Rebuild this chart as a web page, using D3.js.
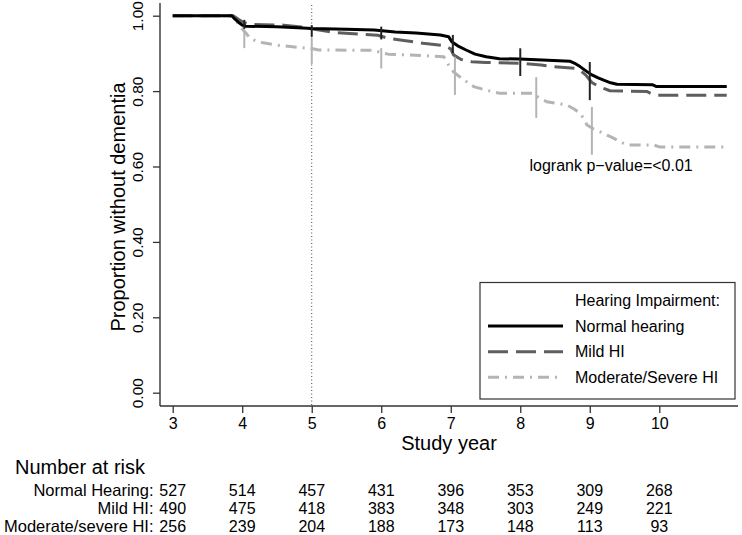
<!DOCTYPE html>
<html>
<head>
<meta charset="utf-8">
<script src="https://cdn.jsdelivr.net/npm/d3@7"></script>
<style>
  html, body { margin: 0; padding: 0; background: #fff; }
  svg { display: block; font-family: "Liberation Sans", Arial, Helvetica, sans-serif; }
</style>
</head>
<body>
<svg id="chart" width="742" height="535"></svg>
<script>
// ---------- data ----------
const years = [3, 4, 5, 6, 7, 8, 9, 10];
const yTicks = [0, 0.2, 0.4, 0.6, 0.8, 1.0];
const groupNames = ["Normal hearing", "Mild HI", "Moderate/Severe HI"];
const riskLabels = ["Normal Hearing:", "Mild HI:", "Moderate/severe HI:"];

const riskNormal = [527, 514, 457, 431, 396, 353, 309, 268];
const riskMild = [490, 475, 418, 383, 348, 303, 249, 221];
const riskModerate = [256, 239, 204, 188, 173, 148, 113, 93];

// Kaplan-Meier estimates [year, survival]
const kmNormal = [[3,1],[3.85,1],[3.9,0.99],[3.95,0.982],[4.0,0.975],[4.05,0.972],[4.5,0.971],[4.8,0.968],[5.0,0.966],[5.5,0.964],[5.9,0.962],[6.2,0.957],[6.5,0.954],[6.85,0.949],[6.97,0.944],[7.02,0.93],[7.1,0.92],[7.22,0.909],[7.35,0.898],[7.51,0.891],[7.7,0.886],[7.99,0.885],[8.4,0.882],[8.72,0.879],[8.8,0.872],[8.86,0.865],[8.95,0.853],[9.03,0.843],[9.12,0.835],[9.2,0.829],[9.3,0.822],[9.39,0.818],[9.9,0.817],[9.96,0.812],[10.97,0.812]];
const kmMild = [[3,1],[3.87,1],[3.95,0.99],[4.02,0.982],[4.1,0.977],[4.6,0.975],[4.85,0.97],[5.0,0.965],[5.3,0.956],[5.7,0.951],[5.95,0.948],[6.1,0.94],[6.3,0.935],[6.6,0.927],[6.9,0.921],[7.0,0.912],[7.04,0.896],[7.15,0.884],[7.3,0.878],[7.5,0.876],[8.0,0.874],[8.3,0.869],[8.47,0.865],[8.8,0.86],[8.88,0.852],[8.94,0.843],[9.03,0.823],[9.12,0.813],[9.2,0.807],[9.29,0.801],[9.82,0.799],[9.9,0.792],[9.97,0.789],[10.97,0.789]];
const kmModerate = [[3,1],[3.85,1],[3.9,0.99],[3.97,0.971],[4.05,0.955],[4.11,0.94],[4.2,0.933],[4.3,0.928],[4.5,0.922],[4.8,0.916],[5.0,0.913],[5.1,0.909],[5.9,0.908],[6.0,0.902],[6.1,0.898],[6.41,0.896],[6.9,0.891],[6.97,0.869],[7.04,0.851],[7.1,0.842],[7.16,0.834],[7.25,0.822],[7.33,0.812],[7.5,0.803],[7.71,0.794],[8.18,0.794],[8.25,0.785],[8.38,0.772],[8.67,0.763],[8.78,0.752],[8.86,0.741],[8.92,0.725],[8.96,0.71],[9.05,0.7],[9.15,0.692],[9.25,0.683],[9.34,0.675],[9.48,0.662],[9.55,0.657],[9.92,0.657],[10.0,0.652],[10.97,0.652]];

// censoring marks [year, upper survival, lower survival]
const censorNormal = [[4.03,0.989,0.965],[5.0,0.975,0.944],[6.0,0.971,0.937],[7.03,0.949,0.901],[8.0,0.9135,0.84],[9.0,0.877,0.776]];
const censorModerate = [[4.03,0.962,0.914],[5.0,0.941,0.872],[6.0,0.914,0.86],[7.06,0.891,0.79],[8.23,0.837,0.729],[9.03,0.758,0.631]];

const refYear = 5;
const pValueText = "logrank p\u2212value=<0.01";

// ---------- layout ----------
const svg = d3.select("#chart");
const FONT_TICK = 15.5;
const FONT_TEXT = 16;
const axisX0 = 160, axisX1 = 738, axisYTop = 3, axisYBottom = 406;

const x = d3.scaleLinear().domain([3, 10]).range([172.7, 659.3]);
const y = d3.scaleLinear().domain([0, 1]).range([392.7, 15.7]);

const styles = [
  { color: "#000000", width: 3, dash: null },
  { color: "#5e5e5e", width: 3, dash: "20,8" },
  { color: "#b4b4b4", width: 3, dash: "11,6,2,6" }
];

// axis lines
svg.append("line").attr("x1", axisX0).attr("x2", axisX0).attr("y1", axisYTop).attr("y2", axisYBottom)
  .attr("stroke", "#333").attr("stroke-width", 1.4);
svg.append("line").attr("x1", axisX0).attr("x2", axisX1).attr("y1", axisYBottom).attr("y2", axisYBottom)
  .attr("stroke", "#333").attr("stroke-width", 1.4);

// y axis
const yAxisG = svg.append("g").attr("transform", `translate(${axisX0},0)`)
  .call(d3.axisLeft(y).tickValues(yTicks).tickFormat(d3.format(".2f")).tickSize(7).tickSizeOuter(0));
yAxisG.select(".domain").remove();
yAxisG.selectAll(".tick line").attr("stroke", "#333").attr("stroke-width", 1.3);
yAxisG.selectAll(".tick text")
  .attr("x", null).attr("dy", null)
  .attr("transform", "translate(-16.7,0) rotate(-90)")
  .attr("text-anchor", "middle")
  .attr("font-size", FONT_TICK).attr("fill", "#000")
  .attr("font-family", "Liberation Sans, Arial, sans-serif");

// x axis
const xAxisG = svg.append("g").attr("transform", `translate(0,${axisYBottom})`)
  .call(d3.axisBottom(x).tickValues(years).tickFormat(d3.format("d")).tickSize(7).tickSizeOuter(0));
xAxisG.select(".domain").remove();
xAxisG.selectAll(".tick line").attr("stroke", "#333").attr("stroke-width", 1.3);
xAxisG.selectAll(".tick text")
  .attr("y", 23).attr("dy", null)
  .attr("font-size", FONT_TEXT).attr("fill", "#000")
  .attr("font-family", "Liberation Sans, Arial, sans-serif");

// axis titles
svg.append("text")
  .attr("transform", `translate(125,207) rotate(-90)`)
  .attr("text-anchor", "middle").attr("font-size", 20).text("Proportion without dementia");
svg.append("text")
  .attr("x", (axisX0 + axisX1) / 2).attr("y", 450)
  .attr("text-anchor", "middle").attr("font-size", 20).text("Study year");

// reference line at year 5
svg.append("line")
  .attr("x1", x(refYear)).attr("x2", x(refYear)).attr("y1", axisYTop + 2).attr("y2", axisYBottom)
  .attr("stroke", "#444").attr("stroke-width", 1).attr("stroke-dasharray", "1,2.5");

// curves
const line = d3.line().x(d => x(d[0])).y(d => y(d[1])).curve(d3.curveLinear);
const curves = [kmNormal, kmMild, kmModerate];
[2, 1, 0].forEach(i => {
  const p = svg.append("path").datum(curves[i])
    .attr("d", line).attr("fill", "none")
    .attr("stroke", styles[i].color).attr("stroke-width", styles[i].width)
    .attr("stroke-linejoin", "round");
  if (styles[i].dash) p.attr("stroke-dasharray", styles[i].dash);
});

// censor marks
svg.append("g").selectAll("line").data(censorModerate).join("line")
  .attr("x1", d => x(d[0])).attr("x2", d => x(d[0]))
  .attr("y1", d => y(d[1])).attr("y2", d => y(d[2]))
  .attr("stroke", "#b4b4b4").attr("stroke-width", 2);
svg.append("g").selectAll("line").data(censorNormal).join("line")
  .attr("x1", d => x(d[0])).attr("x2", d => x(d[0]))
  .attr("y1", d => y(d[1])).attr("y2", d => y(d[2]))
  .attr("stroke", "#222").attr("stroke-width", 2);

// p-value
svg.append("text").attr("x", 529.5).attr("y", 171).attr("font-size", FONT_TEXT).text(pValueText);

// legend
const lg = svg.append("g");
lg.append("rect").attr("x", 480).attr("y", 282.5).attr("width", 255).attr("height", 116.5)
  .attr("fill", "#fff").attr("stroke", "#333").attr("stroke-width", 1.2);
lg.append("text").attr("x", 575).attr("y", 306).attr("font-size", FONT_TEXT).text("Hearing Impairment:");
const legendYs = [326, 351.7, 377.3];
groupNames.forEach((name, i) => {
  const l = lg.append("line").attr("x1", 488).attr("x2", 563)
    .attr("y1", legendYs[i]).attr("y2", legendYs[i])
    .attr("stroke", styles[i].color).attr("stroke-width", styles[i].width);
  if (styles[i].dash) l.attr("stroke-dasharray", styles[i].dash);
  lg.append("text").attr("x", 575).attr("y", legendYs[i] + 5.7).attr("font-size", FONT_TEXT).text(name);
});

// number at risk table
svg.append("text").attr("x", 15).attr("y", 474).attr("font-size", 20).text("Number at risk");
const riskRows = [riskNormal, riskMild, riskModerate];
const rowYs = [495.7, 513.6, 532];
riskRows.forEach((row, i) => {
  svg.append("text").attr("x", 153.5).attr("y", rowYs[i]).attr("text-anchor", "end")
    .attr("font-size", 16.5).text(riskLabels[i]);
  svg.append("g").selectAll("text").data(row).join("text")
    .attr("x", (d, j) => x(years[j])).attr("y", rowYs[i])
    .attr("text-anchor", "middle").attr("font-size", FONT_TEXT)
    .text(d => d);
});
</script>
</body>
</html>
